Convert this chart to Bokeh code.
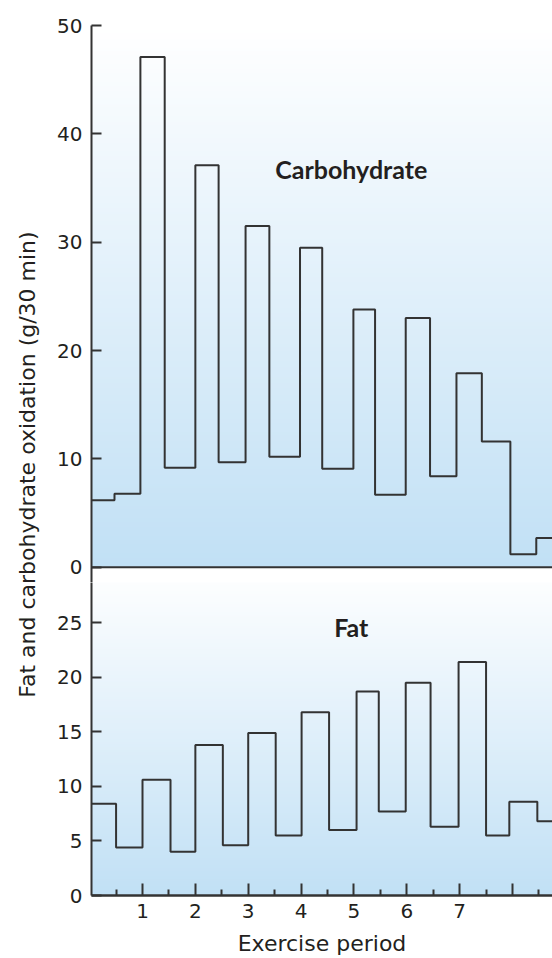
import math
import numpy as np
from bokeh.plotting import figure
from bokeh.layouts import row, column
from bokeh.models import Range1d, FixedTicker, Span
from bokeh.embed import file_html
from bokeh.resources import INLINE
from bokeh.core.properties import value

# ---------------- data ----------------
x_start, x_end = 0.035, 8.757          # visible part of the exercise-period axis
carb_edges = [0.47, 0.96, 1.42, 2.0, 2.44, 2.95, 3.4, 3.98, 4.4, 4.99,
              5.4, 5.98, 6.44, 6.94, 7.42, 7.96, 8.45]
carb_values = [6.2, 6.8, 47.1, 9.2, 37.1, 9.7, 31.5, 10.2, 29.5, 9.1,
               23.8, 6.7, 23.0, 8.4, 17.9, 11.6, 1.2, 2.7]
fat_edges = [0.5, 1.0, 1.53, 2.0, 2.52, 3.0, 3.52, 4.01, 4.53, 5.05,
             5.47, 5.98, 6.45, 6.98, 7.5, 7.94, 8.47]
fat_values = [8.4, 4.4, 10.6, 4.0, 13.8, 4.6, 14.9, 5.5, 16.8, 6.0,
              18.7, 7.7, 19.5, 6.3, 21.4, 5.5, 8.6, 6.8]
x_ticks = [1, 2, 3, 4, 5, 6, 7, 8]
x_tick_labels = ["1", "2", "3", "4", "5", "6", "7", ""]
x_minor_ticks = [0.5, 1.5, 2.5, 3.5, 4.5, 5.5, 6.5, 7.5, 8.5]
carb_ticks = [0, 10, 20, 30, 40, 50]
fat_ticks = [0, 5, 10, 15, 20, 25]
carb_range = (-1.4, 50)       # a little white strip below zero
carb_shade = (0, 50)
fat_range = (0, 28.68)
fat_shade = (0, 30.07)
y_title = "Fat and carbohydrate oxidation (g/30 min)"
x_title = "Exercise period"

# ---------------- styling ----------------
INK = "#231f20"
LINE = "#333333"
FONT = "DejaVu Sans"
GRAD_BOTTOM = (193, 224, 245)
GRAD_TOP = (255, 255, 255)

def gradient(p, y0, y1):
    n = 300
    img = np.zeros((n, 1), dtype=np.uint32)
    v = img.view(dtype=np.uint8).reshape((n, 1, 4))
    t = np.linspace(0.0, 1.0, n)[:, None]
    b = np.array(GRAD_BOTTOM, dtype=float)[None, :]
    tp = np.array(GRAD_TOP, dtype=float)[None, :]
    cols = b * (1 - t) + tp * t
    v[:, 0, 0:3] = np.round(cols).astype(np.uint8)
    v[:, 0, 3] = 255
    p.image_rgba(image=[img], x=x_start, y=y0, dw=x_end - x_start, dh=y1 - y0)

def style_common(p):
    p.outline_line_color = None
    p.grid.visible = False
    p.background_fill_color = "white"
    p.border_fill_color = "white"

def style_yaxis(ax, ticks):
    ax.ticker = FixedTicker(ticks=ticks, minor_ticks=[])
    ax.major_tick_in = 10
    ax.major_tick_out = 0
    ax.minor_tick_in = 0
    ax.minor_tick_out = 0
    ax.axis_line_width = 2
    ax.axis_line_color = LINE
    ax.major_tick_line_width = 2
    ax.major_tick_line_color = LINE
    ax.major_label_text_font = FONT
    ax.major_label_text_font_size = "20px"
    ax.major_label_text_color = INK
    ax.major_label_standoff = 9

def steps(edges, vals):
    xs = [x_start] + list(edges) + [x_end]
    ys = list(vals) + [vals[-1]]
    return xs, ys

xr = Range1d(x_start, x_end)

# ---------------- top panel: carbohydrate ----------------
top = figure(width=504, height=582, x_range=xr, y_range=Range1d(*carb_range),
             output_backend="svg", toolbar_location=None, x_axis_location=None,
             min_border_left=43, min_border_right=0, min_border_top=25,
             min_border_bottom=0, title=None)
style_common(top)
gradient(top, *carb_shade)
cx, cy = steps(carb_edges, carb_values)
top.step(cx, cy, mode="after", line_color=LINE, line_width=2)
top.add_layout(Span(location=0, dimension="width", line_color=LINE, line_width=2))
style_yaxis(top.yaxis[0], carb_ticks)
top.text(x=[4.95], y=[36.8], text=["Carbohydrate"], text_font=value("Lato"),
         text_font_style="bold", text_font_size="25px", text_color=INK,
         text_align="center", text_baseline="middle")

# ---------------- bottom panel: fat ----------------
bot = figure(width=504, height=376, x_range=xr, y_range=Range1d(*fat_range),
             output_backend="svg", toolbar_location=None,
             min_border_left=43, min_border_right=0, min_border_top=0,
             min_border_bottom=62, title=None)
style_common(bot)
gradient(bot, *fat_shade)
fx, fy = steps(fat_edges, fat_values)
bot.step(fx, fy, mode="after", line_color=LINE, line_width=2)
style_yaxis(bot.yaxis[0], fat_ticks)
bot.text(x=[4.95], y=[24.57], text=["Fat"], text_font=value("Lato"),
         text_font_style="bold", text_font_size="25px", text_color=INK,
         text_align="center", text_baseline="middle")

xa = bot.xaxis[0]
xa.ticker = FixedTicker(ticks=x_ticks, minor_ticks=x_minor_ticks)
xa.major_label_overrides = {t: l for t, l in zip(x_ticks, x_tick_labels)}
xa.major_tick_in = 12
xa.major_tick_out = 0
xa.minor_tick_in = 6
xa.minor_tick_out = 0
xa.axis_line_width = 2.5
xa.axis_line_color = LINE
xa.major_tick_line_width = 2
xa.major_tick_line_color = LINE
xa.minor_tick_line_width = 2
xa.minor_tick_line_color = LINE
xa.major_label_text_font = FONT
xa.major_label_text_font_size = "20px"
xa.major_label_text_color = INK
xa.major_label_standoff = 8
xa.axis_label = x_title
xa.axis_label_text_font = FONT
xa.axis_label_text_font_size = "22px"
xa.axis_label_text_font_style = "normal"
xa.axis_label_text_color = INK
xa.axis_label_standoff = 10

# ---------------- shared y-axis title ----------------
tf = figure(width=48, height=958, x_range=Range1d(0, 48), y_range=Range1d(958, 0),
            output_backend="svg", toolbar_location=None, x_axis_location=None,
            y_axis_location=None, min_border=0, title=None)
style_common(tf)
tf.text(x=[27], y=[464], text=[y_title], angle=math.pi / 2,
        text_font=value(FONT), text_font_size="22px", text_color=INK,
        text_align="center", text_baseline="middle")

layout = row(tf, column(top, bot))
open("out.html", "w").write(file_html(layout, INLINE))
